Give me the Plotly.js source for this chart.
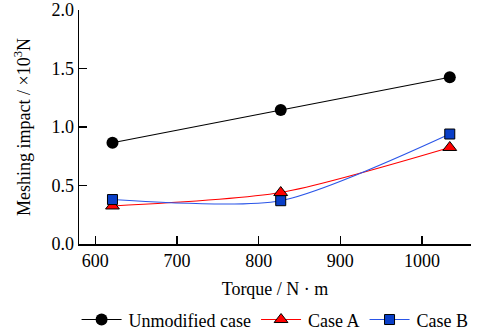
<!DOCTYPE html>
<html>
<head>
<meta charset="utf-8">
<script src="https://cdn.plot.ly/plotly-3.0.1.min.js"></script>
<style>html,body{margin:0;padding:0;background:#fff;}#chart{width:486px;height:336px;}</style>
</head>
<body>
<div id="chart"></div>
<script>
const torque = [621, 827, 1034];
const unmodified = [0.865, 1.145, 1.425];
const caseA = [0.325, 0.44, 0.825];
const caseB = [0.38, 0.37, 0.94];
const seriesNames = ["Unmodified case", "Case A", "Case B"];
const yTicks = [0, 0.5, 1.0, 1.5, 2.0];
const yTickText = ["0.0", "0.5", "1.0", "1.5", "2.0"];
const xTicks = [600, 700, 800, 900, 1000];

const font = "'Liberation Serif', 'Times New Roman', serif";
const legendItemWidth = 42;
const legendLineLen = 40;

const traces = [
  {x: torque, y: unmodified, name: seriesNames[0], mode: "lines+markers", type: "scatter",
   line: {color: "#000000", width: 1.1},
   marker: {symbol: "circle", size: 12, color: "#000000"}},
  {x: torque, y: caseA, name: seriesNames[1], mode: "lines+markers", type: "scatter",
   line: {color: "#ff0000", width: 1.1, shape: "spline", smoothing: 0.7},
   marker: {symbol: "triangle-up", size: 12, color: "#ff0000", line: {color: "#000000", width: 1}}},
  {x: torque, y: caseB, name: seriesNames[2], mode: "lines+markers", type: "scatter",
   line: {color: "#2a55e8", width: 1.1, shape: "spline", smoothing: 0.7},
   marker: {symbol: "square", size: 10, color: "#0a3fc8", line: {color: "#000000", width: 1}}}
];

const layout = {
  width: 486, height: 336,
  margin: {l: 79, r: 15, t: 10, b: 92, autoexpand: false},
  paper_bgcolor: "#ffffff", plot_bgcolor: "#ffffff",
  font: {family: font, size: 18, color: "#000000"},
  showlegend: true,
  legend: {orientation: "h", xref: "container", x: 0.566, xanchor: "center", y: -0.245, yanchor: "top",
           font: {family: font, size: 18, color: "#000000"}, itemwidth: legendItemWidth, tracegroupgap: 0},
  xaxis: {
    range: [580, 1060], tickvals: xTicks, ticks: "inside", ticklen: 8, tickwidth: 1.5,
    tickcolor: "#000000", showline: true, linecolor: "#000000", linewidth: 1.5,
    showgrid: false, zeroline: false, tickfont: {family: font, size: 18}, automargin: false,
    title: {text: "Torque / N · m", font: {family: font, size: 18}, standoff: 12}
  },
  yaxis: {
    range: [0, 2], tickvals: yTicks, ticktext: yTickText, ticks: "inside", ticklen: 8, tickwidth: 1.5,
    tickcolor: "#000000", showline: true, linecolor: "#000000", linewidth: 1.5,
    showgrid: false, zeroline: false, tickfont: {family: font, size: 18}, automargin: false,
    title: {text: "Meshing impact / ×10<sup>3</sup>N", font: {family: font, size: 18}, standoff: 16}
  }
};

function stretchLegend(gd) {
  gd.querySelectorAll(".legend .legendlines path").forEach(function (p) {
    p.setAttribute("d", "M5,0h" + legendLineLen);
  });
  gd.querySelectorAll(".legend .legendpoints path.scatterpts").forEach(function (p) {
    p.setAttribute("transform", "translate(" + (5 + legendLineLen / 2) + ",0)");
  });
}

Plotly.newPlot("chart", traces, layout, {displayModeBar: false, staticPlot: true}).then(function (gd) {
  stretchLegend(gd);
});
</script>
</body>
</html>
